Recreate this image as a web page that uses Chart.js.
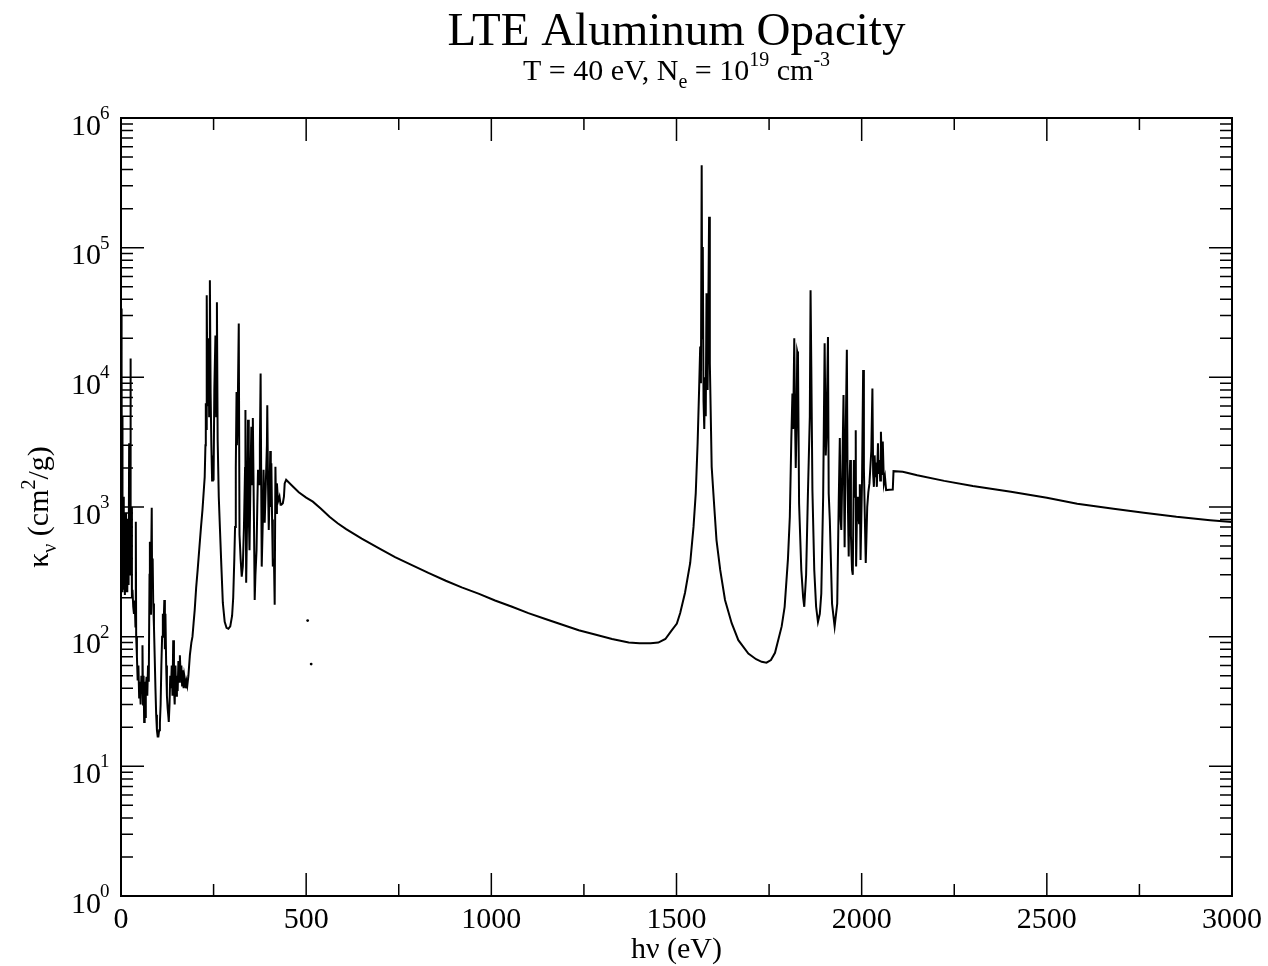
<!DOCTYPE html>
<html>
<head>
<meta charset="utf-8">
<title>LTE Aluminum Opacity</title>
<script src="https://cdn.jsdelivr.net/npm/chart.js@4.4.1/dist/chart.umd.min.js"></script>
<style>
  html, body { margin: 0; padding: 0; background: #fff; }
  canvas { display: block; }
</style>
</head>
<body>
<canvas id="chart" width="1268" height="966"></canvas>
<script>
// photon energy (eV) and opacity (cm^2/g), region by region
const softEv = [0.5, 1.2, 2.0, 2.8, 3.6, 4.5, 6, 7.5, 9, 10.5, 12, 13.5, 15, 17, 19, 20.5, 22, 23, 24.5, 25.5,
  26.5, 28, 29.5, 31, 33, 35, 37, 39, 40, 41, 43, 45, 47, 49, 51, 53, 55, 57, 58, 59.5,
  61, 62.5, 64, 65.5, 67, 69, 71, 73, 75, 77, 78, 79.5, 81, 83, 84, 85.5, 87, 89, 91, 93,
  95, 97, 99, 101, 103, 105, 107, 109, 111, 113, 115, 117, 118.5, 120, 122, 124, 126, 128, 129, 131,
  133, 135, 137, 139, 141, 143, 145, 147, 149, 151, 153, 155, 157, 159, 161, 163, 165, 167, 169, 171,
  173, 175, 177, 179, 182, 186, 190, 193, 196, 199];
const softKappa = [34000, 400, 12000, 300, 5000, 220, 1200, 230, 700, 210, 900, 220, 600, 220, 800, 250, 3100, 350, 2500, 14000,
  300, 1000, 200, 230, 170, 150, 190, 120, 770, 100, 70, 46, 60, 34, 45, 30, 50, 40, 86, 30,
  50, 22, 45, 24, 40, 49, 35, 60, 45, 300, 540, 150, 300, 985, 250, 400, 180, 120, 70, 40,
  25, 19, 17, 17, 19, 21.6, 30, 60, 100, 150, 120, 192, 80, 150, 60, 35, 28, 24, 22, 30,
  50, 40, 60, 35, 94, 40, 30, 60, 35, 50, 38, 65, 45, 72, 50, 60, 42, 55, 40, 50,
  46, 40, 45, 42, 50, 72, 90, 100, 127, 160];

const lShellEv = [203, 207, 212, 216, 220, 224, 226, 228, 229, 230, 231, 232, 233.5, 235, 236.5, 238, 240, 242, 244, 246,
  248, 250, 252, 255, 257, 259, 261, 264, 267, 271, 275, 280, 285, 290, 295, 300, 303, 306, 308, 310,
  312, 313, 315, 318, 320, 323, 326, 329, 332, 335, 336, 338, 341, 343, 345, 347, 350, 352, 354, 356,
  359, 361, 363, 366, 368, 370, 373, 375, 377, 379, 380, 383, 385, 387, 388, 391, 394, 395, 397, 399,
  401, 403, 404.5, 406, 408, 410, 413, 415, 417, 419, 421, 424, 428, 431, 433, 437, 440, 442];
const lShellKappa = [240, 327, 500, 700, 950, 1400, 1700, 3000, 6300, 4000, 8000, 43000, 6000, 7100, 20000, 5000, 56000, 7600, 3000, 1600,
  2500, 1600, 8000, 21000, 5000, 38000, 3300, 1200, 700, 350, 182, 130, 117, 115, 120, 145, 200, 400, 700, 2000,
  7700, 3000, 5000, 26000, 610, 400, 290, 350, 700, 2000, 5600, 260, 1000, 4700, 900, 465, 2000, 4150, 1500, 4850,
  800, 192, 300, 465, 1000, 1940, 1500, 3000, 10700, 1000, 347, 800, 1940, 900, 755, 1500, 3000, 6100, 1500, 665,
  1200, 2700, 1000, 2170, 800, 347, 400, 176, 2040, 900, 1520, 1100, 1200, 1040, 1040, 1070, 1200, 1520];

const decayEv = [446, 460, 480, 500, 518, 540, 563, 585, 608, 650, 697, 740, 787, 830, 877, 920, 967, 1010, 1056, 1100,
  1146, 1190, 1236, 1280, 1326, 1371, 1400, 1430, 1451, 1470, 1485];
const decayKappa = [1620, 1480, 1300, 1180, 1100, 970, 840, 750, 675, 570, 480, 410, 355, 310, 270, 240, 214, 190, 170, 152,
  137, 124, 112, 104, 96, 90, 89, 89, 90, 96, 110];

const heLineEv = [1501, 1510, 1523, 1537, 1546, 1552, 1557, 1561, 1564, 1566, 1568, 1569.5, 1571, 1573, 1575, 1577, 1579, 1581, 1584, 1588,
  1590, 1595, 1602, 1608, 1618, 1631, 1649, 1667, 1694, 1715, 1730, 1743, 1755, 1766, 1784];
const heLineKappa = [126, 152, 218, 370, 705, 1280, 3100, 8000, 17300, 9000, 433000, 20000, 101000, 6600, 4000, 10000, 5000, 44600, 8000, 173000,
  12900, 2040, 1000, 556, 327, 192, 127, 94, 74, 67, 64, 63, 66, 75, 120];

const kShellEv = [1792, 1797, 1801, 1806, 1810, 1813, 1815, 1818, 1820, 1822, 1824, 1826, 1828, 1831, 1837, 1842, 1845, 1850, 1855, 1860,
  1862, 1864, 1867, 1872, 1877, 1882, 1887, 1891, 1896, 1900, 1903, 1905, 1909, 1911, 1914, 1920, 1927, 1934, 1938, 1941,
  1943, 1945, 1948, 1951, 1953, 1954, 1957, 1960, 1962, 1965, 1967, 1969, 1971, 1974, 1976, 1979, 1982, 1984, 1985, 1988,
  1990, 1993, 1995, 1997, 2001, 2004, 2006, 2008, 2011, 2013, 2015, 2018, 2021, 2026, 2029, 2031, 2033, 2035, 2037, 2039,
  2041, 2044, 2046, 2048, 2050, 2052, 2055, 2057, 2060, 2063, 2066, 2075, 2084];
const kShellKappa = [170, 273, 400, 840, 3300, 7500, 4000, 20000, 5000, 2000, 4000, 15800, 14800, 1070, 327, 200, 170, 300, 1310, 5000,
  47000, 12000, 1350, 327, 170, 130, 150, 215, 1200, 18300, 2500, 3500, 20500, 1270, 790, 180, 120, 180, 1070, 3400,
  800, 665, 2040, 7300, 1000, 490, 3900, 16300, 1500, 415, 1500, 2300, 600, 327, 300, 2300, 1200, 3900, 347, 1200,
  950, 750, 1500, 390, 1620, 11400, 2000, 1000, 370, 600, 1000, 1300, 1520, 2700, 8200, 1800, 1430, 2500, 1700, 2200,
  1430, 3100, 1800, 2300, 1600, 3800, 1800, 3200, 1520, 1700, 1350, 1360, 1365];

const tailEv = [2086, 2111, 2150, 2223, 2300, 2403, 2500, 2582, 2680, 2762, 2850, 2941, 3000];
const tailKappa = [1890, 1870, 1760, 1590, 1450, 1310, 1180, 1060, 970, 904, 840, 790, 765];

// two isolated points near 500 eV
const strayEv = [504, 513.5];
const strayKappa = [133, 61.5];

const xTickValues = [0, 500, 1000, 1500, 2000, 2500, 3000];
const xMinorStep = 250;
const yTickExponents = [0, 1, 2, 3, 4, 5, 6];

const FONT = '"Liberation Serif", "Times New Roman", serif';

function toPoints(xs, ys) {
  return xs.map((v, i) => ({ x: v, y: ys[i] }));
}

const spectrum = [].concat(
  toPoints(softEv, softKappa),
  toPoints(lShellEv, lShellKappa),
  toPoints(decayEv, decayKappa),
  toPoints(heLineEv, heLineKappa),
  toPoints(kShellEv, kShellKappa),
  toPoints(tailEv, tailKappa)
);

// draw a line of text with sub/superscripts, centred on cx
function drawRich(ctx, parts, cx, baseY) {
  let total = 0;
  parts.forEach(p => {
    ctx.font = p[1] + 'px ' + FONT;
    total += ctx.measureText(p[0]).width;
  });
  let pos = cx - total / 2;
  parts.forEach(p => {
    ctx.font = p[1] + 'px ' + FONT;
    ctx.fillText(p[0], pos, baseY + p[2]);
    pos += ctx.measureText(p[0]).width;
  });
}

const graceFrame = {
  id: 'graceFrame',
  afterDatasetsDraw(chart) {
    const { ctx, chartArea: a, scales: { x, y } } = chart;
    ctx.save();
    ctx.strokeStyle = '#000';
    ctx.fillStyle = '#000';

    // ticks, pointing inward on all four sides
    ctx.lineWidth = 1.5;
    ctx.beginPath();
    for (let v = x.min; v <= x.max; v += xMinorStep) {
      const len = xTickValues.includes(v) ? 23 : 12;
      const px = x.getPixelForValue(v);
      ctx.moveTo(px, a.bottom); ctx.lineTo(px, a.bottom - len);
      ctx.moveTo(px, a.top); ctx.lineTo(px, a.top + len);
    }
    yTickExponents.forEach(e => {
      for (let m = 1; m <= 9; m++) {
        if (e === 6 && m > 1) break;
        const py = y.getPixelForValue(m * Math.pow(10, e));
        const len = m === 1 ? 23 : 12;
        ctx.moveTo(a.left, py); ctx.lineTo(a.left + len, py);
        ctx.moveTo(a.right, py); ctx.lineTo(a.right - len, py);
      }
    });
    ctx.stroke();

    ctx.lineWidth = 2;
    ctx.strokeRect(a.left, a.top, a.right - a.left, a.bottom - a.top);

    // tick labels
    ctx.textBaseline = 'alphabetic';
    ctx.textAlign = 'center';
    ctx.font = '30px ' + FONT;
    xTickValues.forEach(v => {
      ctx.fillText(String(v), x.getPixelForValue(v), a.bottom + 32);
    });
    yTickExponents.forEach(e => {
      const py = y.getPixelForValue(Math.pow(10, e));
      ctx.textAlign = 'right';
      ctx.font = '30px ' + FONT;
      ctx.fillText('10', a.left - 20, py + 16.5);
      ctx.textAlign = 'left';
      ctx.font = '19px ' + FONT;
      ctx.fillText(String(e), a.left - 21, py + 1);
    });

    // titles
    ctx.textAlign = 'left';
    const cx = (a.left + a.right) / 2;
    drawRich(ctx, [['LTE Aluminum Opacity', 47, 0]], cx, 45);
    drawRich(ctx, [['T = 40 eV, N', 30, 0], ['e', 20, 8], [' = 10', 30, 0], ['19', 20, -14],
      [' cm', 30, 0], ['-3', 20, -14]], cx, 80);
    drawRich(ctx, [['h\u03bd (eV)', 30, 0]], cx, 958);

    ctx.save();
    ctx.translate(48, (a.top + a.bottom) / 2);
    ctx.rotate(-Math.PI / 2);
    drawRich(ctx, [['\u03ba', 30, 0], ['\u03bd', 20, 8], [' (cm', 30, 0], ['2', 20, -13], ['/g)', 30, 0]], 0, 0);
    ctx.restore();

    ctx.restore();
  }
};

const ctx = document.getElementById('chart').getContext('2d');
const chart = new Chart(ctx, {
  type: 'line',
  data: {
    datasets: [{
      data: spectrum,
      borderColor: '#000',
      borderWidth: 2,
      pointRadius: 0,
      tension: 0,
      fill: false,
    }, {
      type: 'scatter',
      data: toPoints(strayEv, strayKappa),
      pointRadius: 1.4,
      pointBackgroundColor: '#000',
      pointBorderWidth: 0,
    }]
  },
  options: {
    responsive: false,
    animation: false,
    devicePixelRatio: 1,
    layout: { padding: { top: 118, right: 36, bottom: 0, left: 0 } },
    plugins: {
      legend: { display: false },
      tooltip: { enabled: false },
      title: { display: false },
    },
    scales: {
      x: {
        type: 'linear',
        min: 0,
        max: 3000,
        grid: { display: false },
        border: { display: false },
        ticks: { display: false },
        afterFit(scale) { scale.height = 70; },
      },
      y: {
        type: 'logarithmic',
        min: 1,
        max: 1e6,
        grid: { display: false },
        border: { display: false },
        ticks: { display: false },
        afterFit(scale) { scale.width = 121; },
      }
    }
  },
  plugins: [graceFrame]
});
</script>
</body>
</html>
